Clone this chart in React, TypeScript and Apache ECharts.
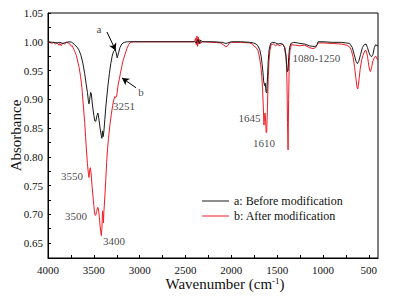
import React, { useEffect, useRef } from "react";
import * as echarts from "echarts";

const FONT = "Liberation Serif";
const RED = "#ee1c25";
const BLACK = "#1a1a1a";

const NAME_A = "a: Before modification";
const NAME_B = "b: After modification";

// Curve a (before modification)
const WN_A = [4000, 3950, 3900, 3870, 3840, 3800, 3760, 3740, 3710, 3680, 3660, 3640, 3620, 3600, 3585, 3570, 3560, 3553, 3545, 3535, 3528, 3515, 3500, 3488, 3478, 3465, 3455, 3445, 3432, 3420, 3412, 3405, 3398, 3390, 3380, 3370, 3360, 3345, 3330, 3315, 3300, 3285, 3270, 3258, 3245, 3238, 3228, 3215, 3195, 3170, 3130, 2450, 2400, 2380, 2365, 2350, 2335, 2320, 2200, 2100, 2060, 2040, 2000, 1900, 1800, 1760, 1730, 1710, 1690, 1675, 1665, 1655, 1648, 1638, 1630, 1622, 1614, 1605, 1597, 1587, 1572, 1550, 1520, 1490, 1460, 1440, 1420, 1405, 1395, 1388, 1381, 1375, 1365, 1350, 1320, 1280, 1250, 1200, 1150, 1110, 1080, 1065, 1055, 1000, 900, 800, 750, 710, 680, 660, 640, 625, 610, 590, 570, 550, 530, 515, 500, 485, 470, 455, 440, 425, 410, 400];
const ABS_A = [1.000, 0.999, 0.998, 0.999, 0.997, 0.999, 1.000, 0.999, 0.995, 0.990, 0.985, 0.976, 0.963, 0.945, 0.928, 0.912, 0.898, 0.892, 0.900, 0.912, 0.910, 0.890, 0.872, 0.862, 0.862, 0.872, 0.876, 0.866, 0.850, 0.838, 0.832, 0.845, 0.835, 0.845, 0.865, 0.885, 0.902, 0.925, 0.945, 0.962, 0.975, 0.983, 0.986, 0.982, 0.972, 0.972, 0.982, 0.990, 0.996, 0.999, 1.000, 1.000, 1.000, 0.998, 1.004, 0.997, 1.003, 1.000, 1.000, 0.999, 0.997, 0.998, 1.000, 1.000, 0.999, 0.998, 0.996, 0.993, 0.986, 0.975, 0.962, 0.947, 0.932, 0.924, 0.928, 0.913, 0.911, 0.940, 0.968, 0.987, 0.997, 0.999, 0.998, 0.996, 0.997, 0.996, 0.990, 0.975, 0.958, 0.948, 0.950, 0.972, 0.990, 0.997, 0.999, 0.998, 0.997, 0.996, 0.993, 0.992, 0.992, 0.995, 1.000, 1.000, 0.999, 0.999, 0.998, 0.997, 0.990, 0.978, 0.966, 0.962, 0.966, 0.978, 0.990, 0.995, 0.996, 0.990, 0.982, 0.976, 0.974, 0.978, 0.990, 0.995, 0.993, 0.993];

// Curve b (after modification)
const WN_B = [4000, 3980, 3960, 3940, 3920, 3900, 3880, 3870, 3855, 3840, 3820, 3800, 3780, 3760, 3745, 3735, 3720, 3705, 3690, 3675, 3660, 3645, 3630, 3615, 3600, 3590, 3580, 3570, 3560, 3553, 3545, 3538, 3530, 3520, 3510, 3500, 3490, 3480, 3470, 3458, 3450, 3440, 3432, 3425, 3418, 3412, 3405, 3400, 3395, 3390, 3380, 3370, 3360, 3350, 3340, 3325, 3310, 3295, 3282, 3270, 3262, 3252, 3245, 3235, 3222, 3210, 3195, 3180, 3160, 3140, 3120, 3100, 3070, 2450, 2400, 2390, 2382, 2375, 2368, 2360, 2352, 2345, 2335, 2320, 2300, 2200, 2120, 2080, 2060, 2040, 2020, 2000, 1900, 1800, 1770, 1750, 1730, 1710, 1695, 1680, 1668, 1660, 1652, 1644, 1638, 1632, 1626, 1620, 1614, 1606, 1598, 1590, 1580, 1565, 1540, 1520, 1500, 1470, 1450, 1430, 1415, 1402, 1393, 1387, 1381, 1375, 1368, 1360, 1345, 1300, 1260, 1200, 1150, 1110, 1080, 1062, 1050, 1000, 900, 800, 740, 710, 690, 670, 655, 640, 628, 620, 610, 595, 580, 565, 545, 530, 515, 500, 490, 482, 470, 455, 440, 425, 410, 400];
const ABS_B = [1.000, 0.999, 0.997, 0.999, 0.996, 0.998, 0.994, 0.997, 0.993, 0.998, 0.996, 0.999, 0.998, 0.996, 0.992, 0.993, 0.987, 0.982, 0.976, 0.965, 0.955, 0.940, 0.920, 0.890, 0.860, 0.835, 0.810, 0.788, 0.772, 0.764, 0.778, 0.781, 0.772, 0.750, 0.732, 0.715, 0.700, 0.698, 0.705, 0.712, 0.710, 0.695, 0.680, 0.670, 0.663, 0.675, 0.706, 0.700, 0.685, 0.705, 0.730, 0.760, 0.790, 0.815, 0.832, 0.855, 0.873, 0.889, 0.899, 0.905, 0.903, 0.905, 0.912, 0.925, 0.935, 0.945, 0.957, 0.968, 0.978, 0.988, 0.995, 0.999, 1.000, 1.000, 1.000, 1.006, 0.995, 1.010, 0.992, 1.008, 0.996, 1.004, 0.997, 1.000, 1.000, 0.999, 0.998, 0.994, 0.991, 0.993, 0.998, 0.999, 0.999, 0.998, 0.996, 0.992, 0.990, 0.985, 0.975, 0.960, 0.940, 0.920, 0.890, 0.855, 0.872, 0.876, 0.862, 0.842, 0.843, 0.885, 0.935, 0.965, 0.984, 0.995, 0.996, 0.993, 0.995, 0.993, 0.996, 0.994, 0.990, 0.975, 0.930, 0.860, 0.812, 0.900, 0.965, 0.985, 0.995, 0.994, 0.993, 0.994, 0.990, 0.988, 0.990, 0.995, 0.998, 0.998, 0.997, 0.996, 0.994, 0.991, 0.985, 0.972, 0.955, 0.935, 0.920, 0.918, 0.930, 0.952, 0.967, 0.976, 0.984, 0.985, 0.975, 0.958, 0.950, 0.948, 0.955, 0.967, 0.972, 0.975, 0.970, 0.968];

// Axis ticks
const X_LABELS = [4000, 3500, 3000, 2500, 2000, 1500, 1000, 500];
const X_TICKS = [4000, 3750, 3500, 3250, 3000, 2750, 2500, 2250, 2000, 1750, 1500, 1250, 1000, 750, 500];
const Y_LABELS = [0.65, 0.7, 0.75, 0.8, 0.85, 0.9, 0.95, 1.0, 1.05];
const Y_TICKS = [0.65, 0.675, 0.7, 0.725, 0.75, 0.775, 0.8, 0.825, 0.85, 0.875, 0.9, 0.925, 0.95, 0.975, 1.0, 1.025, 1.05];

// Annotations (data coordinates)
const ANNOT_TEXT = ["a", "b", "3251", "3550", "3500", "3400", "1645", "1610", "1080-1250"];
const ANNOT_WN = [3444, 2986, 3171, 3738, 3694, 3280, 1803, 1644, 1072];
const ANNOT_ABS = [1.022, 0.913, 0.888, 0.767, 0.697, 0.654, 0.867, 0.824, 0.972];

const ARROW_FROM = [[3357, 1.017], [3040, 0.92]];
const ARROW_TO = [[3262, 0.985], [3193, 0.937]];

export default function App() {
  const ref = useRef<HTMLDivElement>(null);
  useEffect(() => {
    if (!ref.current) return;
    const chart = echarts.init(ref.current, null, { renderer: "svg" });
    const dataA = WN_A.map((w, i) => [w, ABS_A[i]]);
    const dataB = WN_B.map((w, i) => [w, ABS_B[i]]);
    const annot = ANNOT_TEXT.map((t, i) => [ANNOT_WN[i], ANNOT_ABS[i], t]);
    const arrows = ARROW_FROM.map((f, i) => [{ coord: f }, { coord: ARROW_TO[i] }]);
    chart.setOption({
      animation: false,
      textStyle: { fontFamily: FONT },
      grid: {
        left: 48, right: 17, top: 13, bottom: 41,
        show: true, borderColor: "#000", borderWidth: 1,
        outerBoundsMode: "none",
      },
      legend: {
        data: [NAME_A, NAME_B],
        orient: "vertical",
        left: 197, top: 190,
        icon: "rect",
        itemWidth: 27, itemHeight: 1, itemGap: 3,
        textStyle: { fontSize: 12, fontFamily: FONT, color: "#111", lineHeight: 12 },
      },
      xAxis: {
        type: "value",
        inverse: true,
        min: 400, max: 4000,
        name: "{t|Wavenumber (cm}{s|-1}{t|)}",
        nameLocation: "middle",
        nameGap: 18,
        nameMoveOverlap: false,
        nameTextStyle: {
          padding: [0, 0, 0, 24],
          rich: {
            t: { fontSize: 15, fontFamily: FONT, color: "#111", lineHeight: 16 },
            s: { fontSize: 9, fontFamily: FONT, color: "#111", verticalAlign: "top", lineHeight: 16 },
          },
        },
        axisLine: { show: true, onZero: false, lineStyle: { color: "#000", width: 1 } },
        axisTick: { show: true, inside: true, length: 3, customValues: X_TICKS, lineStyle: { color: "#000" } },
        axisLabel: {
          customValues: X_LABELS, fontSize: 11, color: "#111", margin: 6, fontFamily: FONT,
          formatter: (v: number) => String(v),
        },
        splitLine: { show: false },
      },
      yAxis: {
        type: "value",
        min: 0.624, max: 1.05,
        name: "Absorbance",
        nameLocation: "middle",
        nameGap: 25,
        nameMoveOverlap: false,
        nameTextStyle: { fontSize: 15, fontFamily: FONT, color: "#111" },
        axisLine: { show: true, onZero: false, lineStyle: { color: "#000", width: 1 } },
        axisTick: { show: true, inside: true, length: 3, customValues: Y_TICKS, lineStyle: { color: "#000" } },
        axisLabel: {
          customValues: Y_LABELS, fontSize: 11, color: "#111", margin: 5, fontFamily: FONT,
          formatter: (v: number) => v.toFixed(2),
        },
        splitLine: { show: false },
      },
      series: [
        {
          type: "line", name: NAME_B, data: dataB, symbol: "none", showSymbol: false,
          lineStyle: { color: RED, width: 1 }, itemStyle: { color: RED }, z: 2, silent: true,
        },
        {
          type: "line", name: NAME_A, data: dataA, symbol: "none", showSymbol: false,
          lineStyle: { color: BLACK, width: 1 }, itemStyle: { color: BLACK }, z: 3, silent: true,
          markLine: {
            silent: true, symbol: ["none", "arrow"], symbolSize: [6, 7], animation: false,
            lineStyle: { color: "#000", width: 1, type: "solid" },
            label: { show: false },
            data: arrows,
          },
        },
        {
          type: "scatter", name: "labels", data: annot, symbolSize: 1, silent: true, z: 5,
          itemStyle: { color: "transparent" },
          label: {
            show: true, position: "inside", fontSize: 11, color: "#111", fontFamily: FONT,
            formatter: (p: any) => p.data[2],
          },
        },
      ],
    });
    return () => chart.dispose();
  }, []);
  return <div ref={ref} style={{ width: 395, height: 299, position: "absolute", left: 0, top: 0 }} />;
}
